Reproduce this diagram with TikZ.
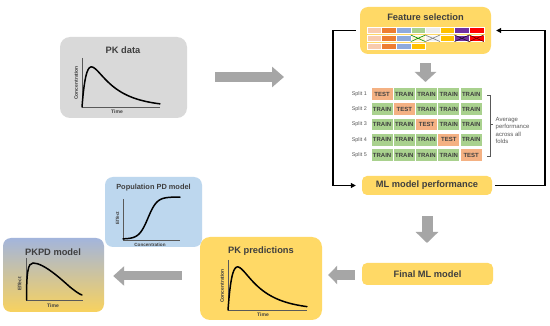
\documentclass[tikz,border=0pt]{standalone}
\usepackage{fontspec}
\setmainfont{Liberation Sans}
\usetikzlibrary{arrows.meta}
\definecolor{gold}{HTML}{FFD966}
\definecolor{boxgray}{HTML}{D9D9D9}
\definecolor{pdblue}{HTML}{BDD7EE}
\definecolor{arrowgray}{HTML}{A6A6A6}
\definecolor{titlec}{HTML}{3F3F3F}
\definecolor{axisc}{HTML}{595959}
\definecolor{peach}{HTML}{F8CBAD}
\definecolor{forange}{HTML}{ED7D31}
\definecolor{fblue}{HTML}{8FAADC}
\definecolor{fgreen}{HTML}{A9D18E}
\definecolor{fgray}{HTML}{EDEDED}
\definecolor{fgold}{HTML}{FFC000}
\definecolor{fpurple}{HTML}{7030A0}
\definecolor{fred}{HTML}{FF0000}
\definecolor{trainc}{HTML}{A9D18E}
\definecolor{testc}{HTML}{F4B183}
\definecolor{pkpdtop}{HTML}{A3B5DC}
\definecolor{pkpdmid}{HTML}{F5E6C0}
\definecolor{pkpdbot}{HTML}{F8D25E}
\tikzset{
  box/.style={rounded corners=#1, inner sep=0pt, draw=none},
  box/.default=8pt,
  title/.style={font=\fontsize{9.3}{11}\selectfont\bfseries, text=titlec, inner sep=0pt},
  axis/.style={draw=axisc, line width=0.5pt},
  curve/.style={draw=black, line width=1.5pt, line cap=round},
  axlabel/.style={font=\fontsize{5}{6}\selectfont\bfseries, text=titlec, inner sep=0pt},
  blockarrow/.style={draw=arrowgray, line width=#1},
  cell/.style={minimum width=22.26pt, minimum height=12.8pt, inner sep=0pt, draw=white, line width=1.2pt,
    font=\fontsize{6}{7}\selectfont\bfseries, text=titlec},
  splitlab/.style={font=\fontsize{5.4}{6}\selectfont, text=axisc, inner sep=0pt, anchor=east},
  fb/.style={draw=black, line width=1.1pt},
  fcell/.style={draw=white, line width=0.4pt}
}
\newcommand\pkcurve[4]{%
  \draw[curve] plot[domain=0:1,samples=80,smooth] ({#1+#3*\x},{#2-#4*(exp(-3.12*\x)-exp(-17.2*\x))/0.56});}
\begin{document}
\begin{tikzpicture}[x=1pt,y=-1pt]
\useasboundingbox[fill=white] (0,0) rectangle (550,326);

% ---------- PK data ----------
\node[box=10pt, fill=boxgray, minimum width=127pt, minimum height=81pt] (pkdata) at (123.5,77.5) {};
\node[title] (pkdatat) at (123,50) {PK data};
\draw[axis] (82,58) -- (82,107) -- (160,107);
\pkcurve{82}{107}{78}{40}
\node[axlabel, rotate=90] (pkdataY) at (76,83) {Concentration};
\node[axlabel] (pkdataX) at (117,112) {Time};

% ---------- Feature selection ----------
\node[box=8pt, fill=gold, minimum width=131pt, minimum height=47pt] (feat) at (425.5,30.5) {};
\node[title] (featt) at (425.5,17) {Feature selection};
\foreach \c/\col in {0/peach,1/forange,2/fblue,3/fgreen,4/fgray,5/fgold,6/fpurple,7/fred}
  \fill[fcell, fill=\col] ({367+\c*14.6},27) rectangle ++(14.6,6.6);
\foreach \c/\col in {0/peach,1/forange,2/fblue,5/fgold,6/fpurple,7/fred}
  \fill[fcell, fill=\col] ({367+\c*14.6},35) rectangle ++(14.6,6.6);
\fill[fcell, fill=white!70!gold] ({367+3*14.6},35) rectangle ++(14.6,6.6);
\fill[fcell, fill=white!90!gray] ({367+4*14.6},35) rectangle ++(14.6,6.6);
\foreach \c/\col in {3/green!55!black,4/gray,6/black!70!fpurple,7/black!60!fred}
  \draw[\col, line width=0.6pt] ({367+\c*14.6},35) -- ++(14.6,6.6) ({367+\c*14.6},41.6) -- ++(14.6,-6.6);
\foreach \c/\col in {0/peach,1/forange,2/fblue,3/fgold}
  \fill[fcell, fill=\col] ({367+\c*14.6},43) rectangle ++(14.6,6.6);

% ---------- Cross-validation grid ----------
\foreach \r in {1,...,5}{
  \node[splitlab] (split\r) at (367,{94+(\r-1)*15.3}) {Split \r};
  \foreach \c in {1,...,5}{
    \ifnum\r=\c
      \node[cell, fill=testc] (cell\r\c) at ({371+(\c-0.5)*22.26},{94+(\r-1)*15.3}) {TEST};
    \else
      \node[cell, fill=trainc] (cell\r\c) at ({371+(\c-0.5)*22.26},{94+(\r-1)*15.3}) {TRAIN};
    \fi
  }
}
\draw[axisc, line width=0.5pt] (487,95) -- (490,95) -- (490,156) -- (487,156);
\draw[axisc, line width=0.5pt] (490,124.5) -- (493,124.5);
\node[anchor=west, align=left, inner sep=0pt, font=\fontsize{6}{7.4}\selectfont, text=axisc] (avg) at (495.5,130.5)
  {Average\\performance\\across all\\folds};

% ---------- ML model performance ----------
\node[box=5pt, fill=gold, minimum width=130pt, minimum height=19pt] (perf) at (427,185.5) {};
\node[title] (perft) at (427,185.5) {ML model performance};

% ---------- Final ML model ----------
\node[box=5pt, fill=gold, minimum width=131pt, minimum height=22pt] (final) at (427.5,274) {};
\node[title] (finalt) at (427.5,274) {Final ML model};

% ---------- PK predictions ----------
\node[box=10pt, fill=gold, minimum width=122pt, minimum height=83pt] (pkpred) at (261,278.5) {};
\node[title] (pkpredt) at (261,251) {PK predictions};
\draw[axis] (228,260) -- (228,310) -- (307,310);
\pkcurve{228}{310}{79}{43}
\node[axlabel, rotate=90] (pkpredY) at (222,286) {Concentration};
\node[axlabel] (pkpredX) at (263,314.5) {Time};

% ---------- Population PD model ----------
\node[box=8pt, fill=pdblue, minimum width=97pt, minimum height=70pt] (pd) at (153.5,212) {};
\node[title, font=\fontsize{7.4}{9}\selectfont\bfseries] (pdt) at (153.5,188) {Population PD model};
\draw[axis] (123,199) -- (123,240) -- (180,240);
\draw[curve] plot[domain=123:180,samples=80,smooth] ({\x},{239-42/(1+exp(-(\x-148)/4.5))});
\node[axlabel, rotate=90, font=\fontsize{4.6}{5}\selectfont\bfseries] (pdY) at (117.5,218) {Effect};
\node[axlabel, font=\fontsize{4.6}{5}\selectfont\bfseries] (pdX) at (150,244.5) {Concentration};

% ---------- PKPD model ----------
\node[box=8pt, top color=pkpdtop, middle color=pkpdmid, bottom color=pkpdbot,
      minimum width=101pt, minimum height=74pt] (pkpd) at (53.5,275) {};
\node[title] (pkpdt) at (53,252) {PKPD model};
\draw[axis] (26,258) -- (26,300) -- (83,300);
\draw[curve] (26.5,300) .. controls (26.5,272) and (28,263) .. (33,263)
  .. controls (44,263) and (62,280) .. (70,287) .. controls (75,291) and (79,294) .. (82,295);
\node[axlabel, rotate=90] (pkpdY) at (19.5,284) {Effect};
\node[axlabel] (pkpdX) at (53,305.5) {Time};

% ---------- block arrows ----------
\coordinate (a1s) at ([xshift=28pt]pkdata.east |- 0,77);
\coordinate (a1e) at (284,77);
\draw[blockarrow=10pt, -{Triangle[length=12pt,width=20pt]}] (a1s) -- (a1e);
\draw[blockarrow=11pt, -{Triangle[length=10pt,width=21pt]}] ([yshift=-9pt]feat.south -| 425.5,0) -- (425.5,82);
\draw[blockarrow=11pt, -{Triangle[length=11pt,width=22pt]}] ([yshift=-21pt]perf.south -| 427,0) -- (427,243);
\draw[blockarrow=10pt, -{Triangle[length=9pt,width=18pt]}] ([xshift=-7pt]final.west |- 0,275) -- ([xshift=6pt]pkpred.east |- 0,275);
\draw[blockarrow=9pt, -{Triangle[length=11pt,width=19pt]}] ([xshift=-18pt]pkpred.west |- 0,276) -- ([xshift=9pt]pkpd.east |- 0,276);

% ---------- feedback loop ----------
\coordinate (lx) at (333,0);
\coordinate (rx) at (545,0);
\draw[fb, -{Triangle[length=5pt,width=5pt]}] ([xshift=-4pt]feat.west) -- (lx |- feat.west) -- (lx |- perf.west) -- ([xshift=-6pt]perf.west);
\draw[fb, -{Triangle[length=5pt,width=5pt]}] ([xshift=3pt]perf.east) -- (rx |- perf.east) -- (rx |- feat.east) -- ([xshift=5pt]feat.east);
\end{tikzpicture}
\end{document}
